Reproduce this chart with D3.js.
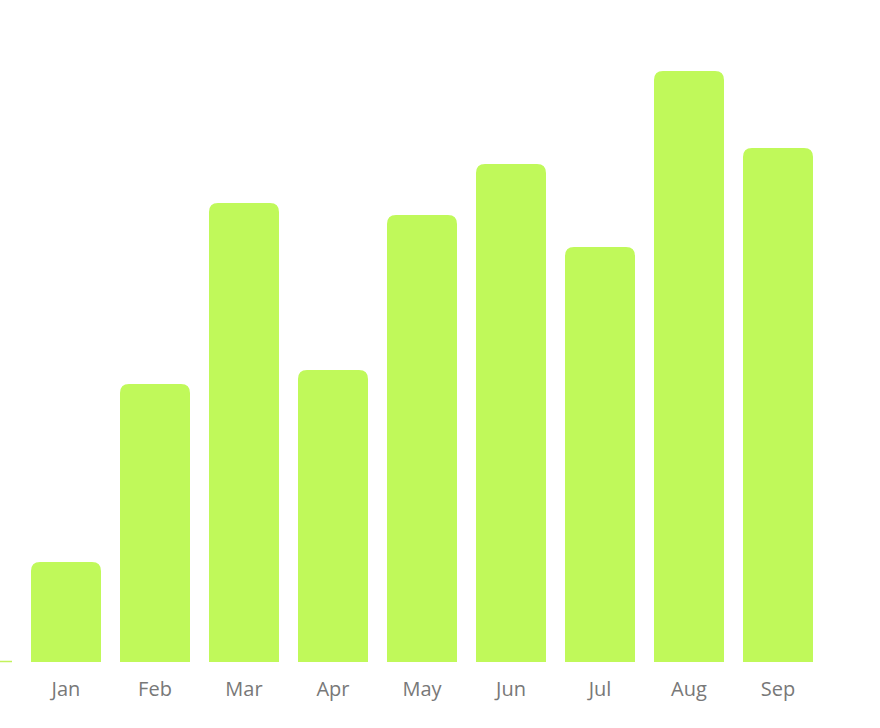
<!DOCTYPE html>
<html><head><meta charset="utf-8">
<script src="https://cdn.jsdelivr.net/npm/d3@7"></script>
<style>body{margin:0;background:#fff}svg{display:block}</style>
</head><body><svg id="c" width="880" height="728"></svg>
<script>
const months = ["Jan","Feb","Mar","Apr","May","Jun","Jul","Aug","Sep"];
const values = [10, 27.8, 45.9, 29.2, 44.7, 49.8, 41.5, 59.1, 51.4];
const yMax = 60;

const svg = d3.select("#c");
const x = d3.scaleBand().domain(months).range([31, 813]).paddingInner(0.2135).paddingOuter(0);
const y = d3.scaleLinear().domain([0, yMax]).range([662, 62]);

svg.append("line").attr("x1", 0).attr("x2", 12).attr("y1", y(0) - 0.5).attr("y2", y(0) - 0.5)
  .attr("stroke", "#c3f25c").attr("stroke-width", 1.5);

function barPath(x0, y0, w, h, r) {
  r = Math.min(r, h, w / 2);
  return `M${x0},${y0 + h}V${y0 + r}Q${x0},${y0} ${x0 + r},${y0}H${x0 + w - r}Q${x0 + w},${y0} ${x0 + w},${y0 + r}V${y0 + h}Z`;
}

svg.selectAll("path.bar").data(months).join("path").attr("class", "bar")
  .attr("fill", "#c0f95a")
  .attr("d", (m, i) => barPath(x(m), y(values[i]), x.bandwidth(), y(0) - y(values[i]), 9));

const axis = d3.axisBottom(x).tickSize(0).tickPadding(0);
const g = svg.append("g").attr("transform", `translate(0,${y(0)})`).call(axis);
g.select(".domain").remove();
g.selectAll("text").attr("dy", null).attr("y", 34).attr("fill", "#787878")
  .style("font-family", "'Open Sans', sans-serif").style("font-size", "20px");
</script></body></html>
